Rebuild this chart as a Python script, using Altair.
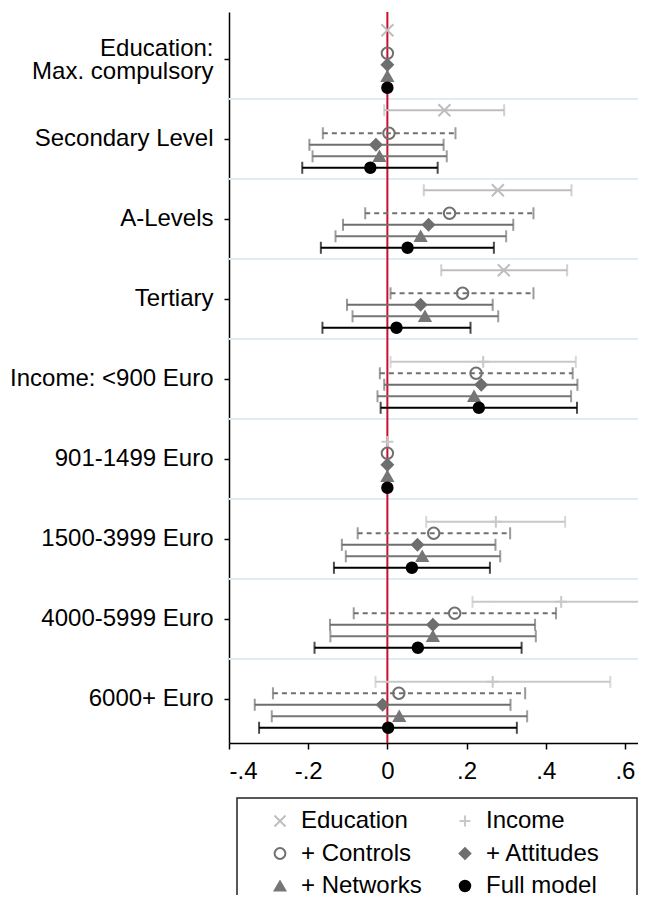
import altair as alt
import pandas as pd

categories = ["Education:|Max. compulsory", "Secondary Level", "A-Levels", "Tertiary",
              "Income: <900 Euro", "901-1499 Euro", "1500-3999 Euro", "4000-5999 Euro", "6000+ Euro"]
series = ["Education", "Income", "+ Controls", "+ Attitudes", "+ Networks", "Full model"]
legend_col = [0, 1, 0, 1, 0, 1]
legend_row = [0, 0, 1, 1, 2, 2]

N = None
edu_coef = [0, 0.144, 0.279, 0.294, N, N, N, N, N]
edu_lo = [N, -0.008, 0.092, 0.136, N, N, N, N, N]
edu_hi = [N, 0.295, 0.465, 0.454, N, N, N, N, N]

inc_coef = [N, N, N, N, 0.242, 0, 0.274, 0.439, 0.266]
inc_lo = [N, N, N, N, 0.008, N, 0.098, 0.215, -0.030]
inc_hi = [N, N, N, N, 0.476, N, 0.449, 0.663, 0.563]

ctl_coef = [0, 0.004, 0.157, 0.190, 0.224, 0, 0.117, 0.170, 0.029]
ctl_lo = [N, -0.163, -0.056, 0.008, -0.019, N, -0.075, -0.085, -0.289]
ctl_hi = [N, 0.172, 0.369, 0.369, 0.468, N, 0.310, 0.426, 0.348]

att_coef = [0, -0.029, 0.104, 0.084, 0.237, 0, 0.076, 0.115, -0.012]
att_lo = [N, -0.197, -0.112, -0.102, -0.008, N, -0.115, -0.145, -0.335]
att_hi = [N, 0.142, 0.318, 0.266, 0.480, N, 0.273, 0.373, 0.311]

net_coef = [0, -0.020, 0.084, 0.095, 0.219, 0, 0.088, 0.115, 0.030]
net_lo = [N, -0.189, -0.131, -0.088, -0.025, N, -0.105, -0.144, -0.292]
net_hi = [N, 0.150, 0.300, 0.280, 0.464, N, 0.285, 0.375, 0.353]

full_coef = [0, -0.043, 0.051, 0.023, 0.231, 0, 0.062, 0.077, 0.002]
full_lo = [N, -0.215, -0.168, -0.164, -0.017, N, -0.135, -0.184, -0.324]
full_hi = [N, 0.127, 0.269, 0.210, 0.479, N, 0.259, 0.339, 0.327]

zero_line = [0]
x_ticks = [-0.4, -0.2, 0, 0.2, 0.4, 0.6]

line_colors = ["#bebebe", "#c8c8c8", "#707070", "#6e6e6e", "#767676", "#000000"]
fill_colors = ["transparent", "transparent", "transparent", "#6e6e6e", "#767676", "#000000"]
shapes = ["M-1,-1L1,1M-1,1L1,-1", "M-1,0L1,0M0,-1L0,1", "circle", "diamond", "triangle-up", "circle"]
sizes = [144, 110, 110, 210, 200, 144]
legend_sizes = [121, 110, 81, 121, 169, 70]
dashes = [[1, 0], [1, 0], [5, 4], [1, 0], [1, 0], [1, 0]]

all_series = {
    "Education": (edu_coef, edu_lo, edu_hi),
    "Income": (inc_coef, inc_lo, inc_hi),
    "+ Controls": (ctl_coef, ctl_lo, ctl_hi),
    "+ Attitudes": (att_coef, att_lo, att_hi),
    "+ Networks": (net_coef, net_lo, net_hi),
    "Full model": (full_coef, full_lo, full_hi),
}
rows = []
for s, (c, lo, hi) in all_series.items():
    for i, cat in enumerate(categories):
        if c[i] is not None:
            rows.append({"category": cat, "series": s, "coef": c[i], "lo": lo[i], "hi": hi[i]})
df = pd.DataFrame(rows)
grid_df = pd.DataFrame({"category": categories[1:]})
zero_df = pd.DataFrame({"x": zero_line})
leg_df = pd.DataFrame({"series": series, "col": legend_col, "row": legend_row})

FONT = "Liberation Sans"
FS = 24

xscale = alt.Scale(domain=[-0.4, 0.633], nice=False, zero=False)
xaxis = alt.Axis(values=x_ticks, grid=False, title=None, tickSize=6, tickWidth=1.5, tickColor="#000",
                 domainColor="#000", domainWidth=1.5, labelFontSize=FS, labelColor="#000",
                 labelPadding=10,
                 labelExpr="datum.value == 0 ? '0' : (datum.value < 0 ? '-' : '') + replace(format(abs(datum.value), '.1f'), '0.', '.')")
yscale = alt.Scale(domain=categories, paddingInner=0, paddingOuter=0.06875, align=0.64)
yaxis = alt.Axis(title=None, grid=False, tickSize=5, tickWidth=1.5, tickColor="#000", domainColor="#000",
                 domainWidth=1.5, labelFontSize=FS, labelColor="#000", labelPadding=11, labelLimit=400,
                 labelLineHeight=23, labelExpr="split(datum.label, '|')",
                 labelOffset={"condition": {"test": "indexof(datum.value, '|') >= 0", "value": -10}, "value": 0})
yoff = alt.YOffset("series:N", scale=alt.Scale(domain=series, paddingInner=0, paddingOuter=0.48))
color_enc = alt.Color("series:N", scale=alt.Scale(domain=series, range=line_colors), legend=None)
shape_enc = alt.Shape("series:N", scale=alt.Scale(domain=series, range=shapes), legend=None)
fill_enc = alt.Fill("series:N", scale=alt.Scale(domain=series, range=fill_colors), legend=None)
stroke_enc = alt.Stroke("series:N", scale=alt.Scale(domain=series, range=line_colors), legend=None)

grid = alt.Chart(grid_df).mark_rule(color="#e2ebf1", strokeWidth=2).encode(
    y=alt.Y("category:N", scale=yscale, axis=yaxis, bandPosition=0)
)
zero = alt.Chart(zero_df).mark_rule(color="#c8102e", strokeWidth=2).encode(
    x=alt.X("x:Q", scale=xscale, axis=xaxis)
)
base = alt.Chart(df)
ci = base.transform_filter("isValid(datum.lo)").mark_rule(strokeWidth=2, clip=True).encode(
    x=alt.X("lo:Q", scale=xscale, axis=xaxis),
    x2="hi:Q",
    y=alt.Y("category:N", scale=yscale, axis=yaxis),
    yOffset=yoff,
    color=color_enc,
    strokeDash=alt.StrokeDash("series:N", scale=alt.Scale(domain=series, range=dashes), legend=None),
)
caps = base.transform_filter("isValid(datum.lo)").transform_fold(["lo", "hi"], as_=["end", "val"]).mark_tick(
    thickness=2, size=12, clip=True
).encode(
    x=alt.X("val:Q", scale=xscale, axis=xaxis),
    y=alt.Y("category:N", scale=yscale, axis=yaxis),
    yOffset=yoff,
    color=color_enc,
)
pts = base.mark_point(strokeWidth=2, opacity=1).encode(
    x=alt.X("coef:Q", scale=xscale, axis=xaxis),
    y=alt.Y("category:N", scale=yscale, axis=yaxis),
    yOffset=yoff,
    shape=shape_enc, fill=fill_enc, stroke=stroke_enc,
    size=alt.Size("series:N", scale=alt.Scale(domain=series, range=sizes), legend=None),
)
main = alt.layer(grid, zero, ci, caps, pts)

# legend, drawn from the series list through its own scales
lx = alt.X("col:Q", scale=alt.Scale(domain=[0, 1], range=[51, 236], nice=False, zero=False), axis=None)
ly = alt.Y("row:Q", scale=alt.Scale(domain=[0, 2], range=[809, 874], nice=False, zero=False), axis=None)
leg_base = alt.Chart(leg_df)
leg_box = alt.Chart(pd.DataFrame({"b": [0]})).mark_rect(
    fill="transparent", stroke="#222", strokeWidth=1.5
).encode(x=alt.value(8), x2=alt.value(408), y=alt.value(786), y2=alt.value(930))
leg_pts = leg_base.mark_point(strokeWidth=2, opacity=1).encode(
    x=lx, y=ly, shape=shape_enc, fill=fill_enc, stroke=stroke_enc,
    size=alt.Size("series:N", scale=alt.Scale(domain=series, range=legend_sizes), legend=None),
)
leg_txt = leg_base.mark_text(align="left", baseline="middle", dx=21, fontSize=FS, color="#000", font=FONT).encode(
    x=lx, y=ly, text="series:N"
)
legend_layer = alt.layer(leg_box, leg_pts, leg_txt)

chart = alt.layer(main, legend_layer).resolve_scale(
    x="independent", y="independent", size="independent"
).properties(
    width=409, height=731,
    padding={"top": 4, "left": 221, "right": 0, "bottom": 152},
    autosize=alt.AutoSizeParams(type="none"),
).configure(font=FONT).configure_view(stroke=None)

chart.save("out.html", embed_options={"renderer": "svg", "actions": False})
